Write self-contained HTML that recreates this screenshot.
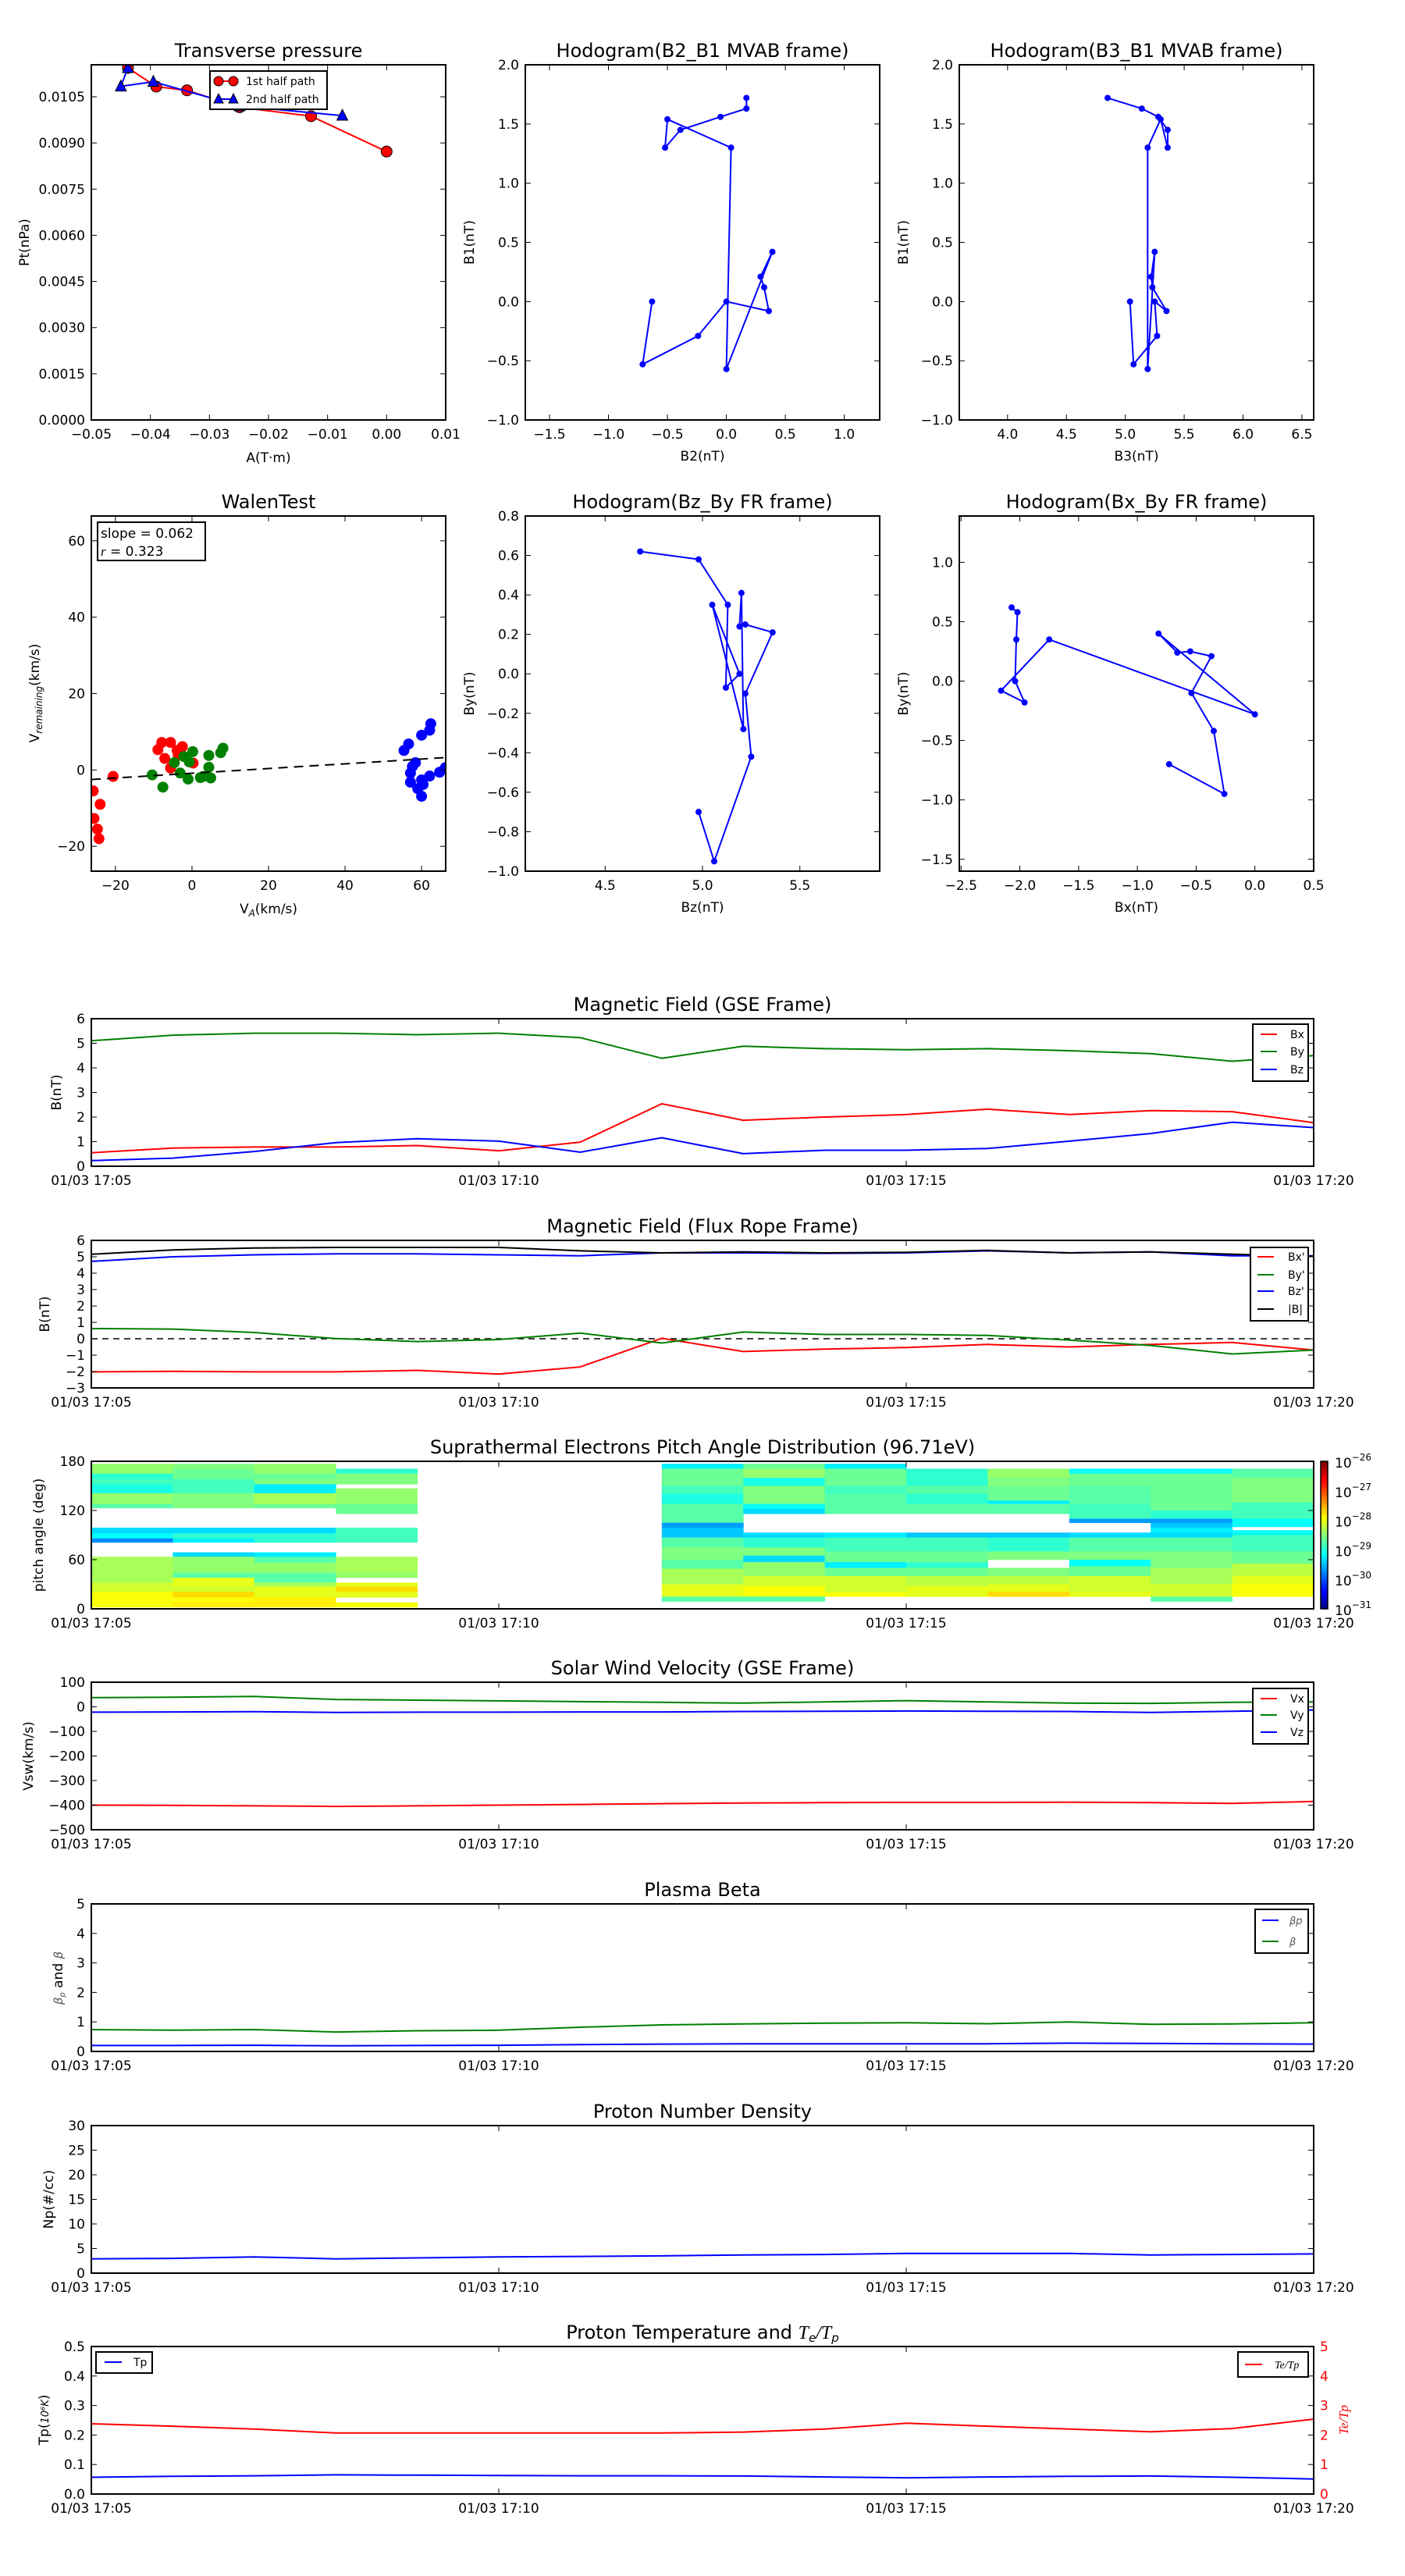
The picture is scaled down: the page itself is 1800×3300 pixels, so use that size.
<!DOCTYPE html>
<html><head><meta charset="utf-8">
<style>
html,body{margin:0;padding:0;background:#fff;}
svg{display:block;font-family:"DejaVu Sans","Liberation Sans",sans-serif;}
</style></head>
<body>
<svg id="fig" xmlns="http://www.w3.org/2000/svg" width="1800" height="3300" viewBox="0 0 1800 3300"></svg>
<script>
// ---------------- DATA ----------------
const minutes = [0,1,2,3,4,5,6,7,8,9,10,11,12,13,14,15];
const timeTickVals = [0,5,10,15];
const timeTickLabels = ["01/03 17:05","01/03 17:10","01/03 17:15","01/03 17:20"];

const gseBx = [0.55,0.74,0.78,0.78,0.84,0.63,0.98,2.54,1.87,2.0,2.1,2.32,2.1,2.26,2.22,1.77];
const gseBy = [5.1,5.33,5.41,5.41,5.35,5.41,5.23,4.39,4.88,4.78,4.74,4.78,4.70,4.58,4.27,4.5];
const gseBz = [0.23,0.33,0.6,0.96,1.12,1.02,0.57,1.16,0.51,0.65,0.65,0.72,1.02,1.33,1.79,1.57];

const frBx = [-2.02,-1.99,-2.02,-2.02,-1.93,-2.15,-1.72,0.03,-0.78,-0.63,-0.54,-0.35,-0.5,-0.35,-0.23,-0.69];
const frBy = [0.62,0.59,0.38,0.01,-0.17,-0.05,0.35,-0.26,0.41,0.26,0.26,0.2,-0.08,-0.41,-0.93,-0.69];
const frBz = [4.72,5.0,5.12,5.18,5.18,5.12,5.06,5.24,5.24,5.21,5.24,5.36,5.24,5.3,5.06,5.06];
const frB  = [5.15,5.42,5.54,5.57,5.57,5.57,5.36,5.24,5.3,5.24,5.27,5.39,5.24,5.3,5.15,5.03];

const swVx = [-400,-401,-403,-405,-403,-400,-397,-394,-391,-390,-389,-389,-388,-390,-393,-385];
const swVy = [37,39,42,30,27,24,21,18,15,20,25,20,15,14,18,20];
const swVz = [-22,-21,-20,-23,-22,-22,-21,-21,-19,-18,-17,-18,-19,-23,-18,-13];

const betaP = [0.2,0.2,0.21,0.19,0.2,0.21,0.23,0.25,0.26,0.26,0.26,0.26,0.28,0.27,0.26,0.25];
const betaT = [0.74,0.72,0.74,0.66,0.70,0.72,0.82,0.9,0.93,0.96,0.97,0.94,1.0,0.92,0.93,0.97];

const npVals = [2.9,3.0,3.3,2.9,3.1,3.3,3.4,3.5,3.7,3.8,4.0,4.0,4.0,3.7,3.8,3.9];

const tpVals = [0.057,0.060,0.062,0.065,0.064,0.063,0.062,0.062,0.061,0.058,0.055,0.058,0.060,0.061,0.057,0.051];
const teTpVals = [2.38,2.3,2.2,2.07,2.07,2.07,2.07,2.07,2.1,2.2,2.4,2.3,2.2,2.11,2.22,2.54];

// PAD: columns (minute index) and bands [deg_top, deg_bottom, log10 value]
const padCols = [0,1,2,3,7,8,9,10,11,12,13,14];
const padBands = [
 [[177,170,-28.4],[170,165,-28.4],[165,158,-28.9],[158,152,-28.8],[152,141,-29.0],[141,128,-28.4],[128,123,-28.7],[99,92,-29.3],[92,86,-29.1],[86,81,-29.7],[63.5,32,-28.3],[32,21,-28.1],[21,2,-27.9]],
 [[177,170,-28.5],[170,158,-28.6],[158,152,-28.8],[152,141,-28.8],[141,123,-28.5],[99,92,-29.3],[92,86,-28.9],[86,81,-29.2],[69,63.5,-29.3],[63.5,44,-28.4],[44,38,-28.7],[38,27,-28.0],[27,21,-28.1],[21,14,-27.7],[14,8,-27.9],[8,2,-27.8]],
 [[177,165,-28.4],[165,158,-28.6],[158,152,-28.5],[152,141,-29.2],[141,128,-28.3],[128,123,-28.6],[99,92,-29.3],[92,81,-28.9],[69,63.5,-29.2],[63.5,56,-28.7],[56,44,-28.4],[44,32,-28.7],[32,27,-28.3],[27,14,-28.0],[14,2,-27.8]],
 [[171,165,-28.9],[165,152,-28.5],[147,128,-28.4],[128,116,-28.6],[99,81,-28.8],[63.5,44,-28.3],[44,38,-28.4],[32,27,-28.0],[27,21,-27.7],[21,14,-28.0],[8,2,-27.9]],
 [[177,171,-29.2],[171,150,-28.6],[150,140,-28.8],[140,128,-29.0],[128,105,-28.7],[105,99,-29.6],[99,87,-29.4],[87,75,-28.7],[75,60,-28.5],[60,49,-28.7],[49,30,-28.3],[30,15,-28.0],[15,9,-28.7]],
 [[177,171,-28.6],[171,160,-28.4],[160,150,-29.0],[150,128,-28.5],[128,122,-29.1],[122,116,-29.3],[93,87,-29.3],[87,75,-28.9],[75,65,-28.5],[65,57,-29.3],[57,40,-28.4],[40,28,-28.1],[28,15,-27.9],[15,9,-28.7]],
 [[177,171,-29.2],[171,150,-28.6],[150,140,-28.8],[140,116,-28.7],[93,87,-29.2],[87,70,-28.8],[70,57,-28.6],[57,50,-29.2],[50,40,-28.6],[40,20,-28.1],[20,15,-27.9]],
 [[171,150,-28.9],[150,140,-28.7],[140,128,-28.9],[128,116,-28.7],[93,87,-29.4],[87,70,-28.8],[70,57,-28.6],[57,50,-28.9],[50,40,-28.6],[40,28,-28.2],[28,15,-28.0]],
 [[171,160,-28.4],[160,150,-28.5],[150,132,-28.6],[132,128,-29.2],[128,116,-28.7],[93,87,-29.4],[87,70,-28.9],[70,60,-28.5],[50,40,-28.5],[40,30,-28.2],[30,21,-28.0],[21,15,-27.7]],
 [[171,165,-29.1],[165,150,-28.6],[150,128,-28.7],[128,110,-28.8],[110,105,-29.6],[93,87,-29.3],[87,70,-28.7],[70,60,-28.5],[60,52,-29.1],[52,40,-28.6],[40,21,-28.1],[21,15,-28.0]],
 [[171,165,-29.1],[165,140,-28.6],[140,120,-28.6],[120,110,-28.9],[110,105,-29.6],[105,99,-29.4],[99,93,-29.2],[93,87,-29.3],[87,70,-28.7],[70,50,-28.5],[50,30,-28.3],[30,15,-28.1],[15,9,-28.7]],
 [[171,160,-28.7],[160,130,-28.5],[130,110,-28.8],[110,100,-29.1],[96,90,-29.1],[90,70,-28.8],[70,55,-28.6],[55,40,-28.2],[40,30,-28.0],[30,15,-27.9]]
];

// Transverse pressure
const pt1A = [-0.0438,-0.039,-0.0338,-0.0249,-0.0128,0.0];
const pt1P = [0.01144,0.01083,0.01071,0.01016,0.00987,0.00872];
const pt2A = [-0.0075,-0.0249,-0.0395,-0.045,-0.0438];
const pt2P = [0.00989,0.0102,0.01099,0.01084,0.01144];

// Hodograms MVAB
const mvB1 = [1.72,1.63,1.56,1.45,1.30,1.54,1.30,-0.57,0.42,0.21,0.12,-0.08,0.0,-0.29,-0.53,0.0];
const mvB2 = [0.17,0.17,-0.05,-0.39,-0.52,-0.50,0.04,0.0,0.39,0.29,0.32,0.36,0.0,-0.24,-0.71,-0.63];
const mvB3 = [4.85,5.14,5.28,5.36,5.36,5.30,5.19,5.19,5.25,5.22,5.23,5.35,5.25,5.27,5.07,5.04];

// Hodograms FR frame
const hzBz = [4.68,4.98,5.13,5.12,5.19,5.05,5.21,5.20,5.19,5.22,5.36,5.22,5.25,5.06,4.98];
const hzBy = [0.62,0.58,0.35,-0.07,0.0,0.35,-0.28,0.41,0.24,0.25,0.21,-0.10,-0.42,-0.95,-0.70];
const hxBx = [-2.07,-2.02,-2.03,-2.04,-1.96,-2.16,-1.75,0.0,-0.82,-0.66,-0.55,-0.37,-0.54,-0.35,-0.26,-0.73];
const hxBy = [0.62,0.58,0.35,0.0,-0.18,-0.08,0.35,-0.28,0.40,0.24,0.25,0.21,-0.10,-0.42,-0.95,-0.70];

// Walen test
const waRedX = [-25.8,-24,-25.6,-24.7,-24.3,-20.6,-8.9,-7.9,-7.1,-5.6,-5.6,-3.9,-3.6,-2.5,0.3];
const waRedY = [-5.5,-9,-12.7,-15.5,-18,-1.7,5.3,7.2,3.0,7.2,0.5,5.1,3.9,6.1,1.8];
const waGreenX = [-10.4,-7.6,-4.6,-3.1,-2.1,-0.7,0.2,-1.0,2.2,3.0,4.9,4.4,4.4,7.5,8.1];
const waGreenY = [-1.3,-4.5,1.9,-0.8,3.5,2.1,4.8,-2.4,-2.0,-1.7,-2.1,3.8,0.7,4.5,5.7];
const waBlueX = [55.4,56.6,57.1,57.1,57.6,58.4,60,62.4,62.1,62.1,59,60,60.4,60,64.7,66.2];
const waBlueY = [5.1,6.8,-0.8,-3.2,0.9,1.9,9.1,12.1,10.4,-1.6,-4.9,-2.6,-3.8,-6.9,-0.6,0.6];
const waSlope = 0.062;
const waIntercept = -0.87;

// ---------------- HELPERS ----------------
const NS = "http://www.w3.org/2000/svg";
const fig = document.getElementById('fig');
function mk(tag, name, attrs, parent){
  const e = document.createElementNS(NS, tag);
  
  
  for (const k in attrs) e.setAttribute(k, attrs[k]);
  (parent||fig).appendChild(e);
  return e;
}
function txt(name, x, y, s, size, anchor, parent, extra){
  const a = Object.assign({x:x, y:y, 'font-size':size, 'text-anchor':anchor||'start', fill:'#000'}, extra||{});
  const t = mk('text', name, a, parent);
  t.textContent = s;
  return t;
}
function fmt(v, d){ const s = Math.abs(v).toFixed(d); return (v < 0 ? '\u2212' : '') + s; }
let clipId = 0;
function axes(o){
  const g = mk('g', o.name, {});
  const sx = v => o.x0 + (v-o.xmin)/(o.xmax-o.xmin)*(o.x1-o.x0);
  const sy = v => o.y1 - (v-o.ymin)/(o.ymax-o.ymin)*(o.y1-o.y0);
  const id = 'clip' + (clipId++);
  const cp = mk('clipPath', 'clip-region', {id:id}, g);
  mk('rect', 'clip-rect', {x:o.x0, y:o.y0, width:o.x1-o.x0, height:o.y1-o.y0}, cp);
  const plot = mk('g', 'plot-area', {'clip-path':'url(#'+id+')'}, g);
  const deco = mk('g', 'axis-decoration', {}, g);
  return {g, plot, deco, sx, sy, o};
}
function finishAxes(A){
  const o = A.o, d = A.deco;
  o.xticks.forEach((v,i) => {
    const x = A.sx(v);
    mk('line', 'x-tick', {x1:x, y1:o.y1, x2:x, y2:o.y1-7, stroke:'#000', 'stroke-width':1}, d);
    mk('line', 'x-tick-top', {x1:x, y1:o.y0, x2:x, y2:o.y0+7, stroke:'#000', 'stroke-width':1}, d);
    txt('x-tick-label', x, o.y1+24, o.xlabels[i], 17, 'middle', d);
  });
  o.yticks.forEach((v,i) => {
    const y = A.sy(v);
    mk('line', 'y-tick', {x1:o.x0, y1:y, x2:o.x0+7, y2:y, stroke:'#000', 'stroke-width':1}, d);
    if (!o.noRightTicks) mk('line', 'y-tick-right', {x1:o.x1, y1:y, x2:o.x1-7, y2:y, stroke:'#000', 'stroke-width':1}, d);
    txt('y-tick-label', o.x0-8, y+6, o.ylabels[i], 17, 'end', d);
  });
  mk('rect', 'axes-frame', {x:o.x0, y:o.y0, width:o.x1-o.x0, height:o.y1-o.y0, fill:'none', stroke:'#000', 'stroke-width':2}, d);
  if (o.title) txt('chart-title', (o.x0+o.x1)/2, o.y0-10, o.title, 24, 'middle', d);
  if (o.xtitle) txt('x-axis-title', (o.x0+o.x1)/2, o.xtitleY, o.xtitle, 17, 'middle', d);
  if (o.ytitle){
    txt('y-axis-title', 0, 0, o.ytitle, 17, 'middle', d, {transform:'translate('+o.ytitleX+','+((o.y0+o.y1)/2)+') rotate(-90)'});
  }
}
function poly(A, xs, ys, color, name, w){
  const pts = xs.map((x,i) => A.sx(x).toFixed(1)+','+A.sy(ys[i]).toFixed(1)).join(' ');
  return mk('polyline', name, {points:pts, fill:'none', stroke:color, 'stroke-width':w||2, 'stroke-linejoin':'round'}, A.plot);
}
function dots(A, xs, ys, color, name, r, edge){
  xs.forEach((x,i) => {
    const c = mk('circle', name, {cx:A.sx(x), cy:A.sy(ys[i]), r:r, fill:color}, A.plot);
    if (edge) { c.setAttribute('stroke', '#000'); c.setAttribute('stroke-width', 1); }
  });
}
function legend(name, x, y, w, h, entries){
  const g = mk('g', name, {});
  mk('rect', 'legend-frame', {x:x, y:y, width:w, height:h, fill:'#fff', stroke:'#000', 'stroke-width':2}, g);
  entries.forEach(e => {
    mk('line', 'legend-swatch', {x1:e.lx1, y1:e.y, x2:e.lx2, y2:e.y, stroke:e.color, 'stroke-width':2}, g);
    txt('legend-label', e.tx, e.y+5, e.label, e.size||14, 'start', g, e.extra);
  });
  return g;
}
function range(a,b,s){ const r=[]; for(let v=a; v<=b+1e-9; v+=s) r.push(+v.toFixed(6)); return r; }

// ---------------- TOP ROW ----------------
(function(){
  const yt = range(0, 0.0105, 0.0015), xt = range(-0.05, 0.01, 0.01);
  const A = axes({name:'transverse-pressure-chart', x0:117,x1:571,y0:83,y1:538, xmin:-0.05,xmax:0.01,ymin:0,ymax:0.01154,
    xticks:xt, xlabels:xt.map(v=>fmt(v,2)), yticks:yt, ylabels:yt.map(v=>fmt(v,4)),
    title:'Transverse pressure', xtitle:'A(T\u00b7m)', xtitleY:592, ytitle:'Pt(nPa)', ytitleX:37});
  poly(A, pt1A, pt1P, '#ff0000', 'first-half-path-line', 2);
  dots(A, pt1A, pt1P, '#ff0000', 'first-half-point', 7, true);
  poly(A, pt2A, pt2P, '#0000ff', 'second-half-path-line', 2);
  pt2A.forEach((a,i) => {
    const x = A.sx(a), y = A.sy(pt2P[i]);
    mk('polygon', 'second-half-point', {points:(x)+','+(y-8)+' '+(x-7)+','+(y+6)+' '+(x+7)+','+(y+6), fill:'#0000ff', stroke:'#000', 'stroke-width':1}, A.plot);
  });
  finishAxes(A);
  const g = mk('g', 'transverse-legend', {});
  mk('rect', 'legend-frame', {x:269,y:91,width:150,height:49,fill:'#fff',stroke:'#000','stroke-width':2}, g);
  mk('line', 'legend-swatch', {x1:280,y1:104,x2:299,y2:104,stroke:'#ff0000','stroke-width':2}, g);
  mk('circle', 'legend-marker', {cx:280,cy:104,r:6,fill:'#ff0000',stroke:'#000'}, g);
  mk('circle', 'legend-marker', {cx:299,cy:104,r:6,fill:'#ff0000',stroke:'#000'}, g);
  txt('legend-label', 315, 109, '1st half path', 14, 'start', g);
  mk('line', 'legend-swatch', {x1:280,y1:127,x2:299,y2:127,stroke:'#0000ff','stroke-width':2}, g);
  mk('polygon', 'legend-marker', {points:'280,120 274,132 286,132', fill:'#0000ff', stroke:'#000'}, g);
  mk('polygon', 'legend-marker', {points:'299,120 293,132 305,132', fill:'#0000ff', stroke:'#000'}, g);
  txt('legend-label', 315, 132, '2nd half path', 14, 'start', g);
})();

function hodo(name, box, lim, xt, xl, yt, yl, xs, ys, title, xtitle, ytitle, xtitleY){
  const A = axes({name:name, x0:box[0],x1:box[1],y0:box[2],y1:box[3], xmin:lim[0],xmax:lim[1],ymin:lim[2],ymax:lim[3],
    xticks:xt, xlabels:xl, yticks:yt, ylabels:yl, title:title, xtitle:xtitle, xtitleY:xtitleY, ytitle:ytitle, ytitleX:box[0]-66});
  poly(A, xs, ys, '#0000ff', 'hodogram-path', 2);
  dots(A, xs, ys, '#0000ff', 'hodogram-point', 4);
  finishAxes(A);
}
{
  const xt = range(-1.5,1.0,0.5), yt = range(-1.0,2.0,0.5);
  hodo('hodogram-b2-b1', [673,1127,83,538], [-1.705,1.3,-1,2], xt, xt.map(v=>fmt(v,1)), yt, yt.map(v=>fmt(v,1)), mvB2, mvB1,
    'Hodogram(B2_B1 MVAB frame)', 'B2(nT)', 'B1(nT)', 590);
  const xt3 = range(4.0,6.5,0.5);
  hodo('hodogram-b3-b1', [1229,1683,83,538], [3.59,6.6,-1,2], xt3, xt3.map(v=>fmt(v,1)), yt, yt.map(v=>fmt(v,1)), mvB3, mvB1,
    'Hodogram(B3_B1 MVAB frame)', 'B3(nT)', 'B1(nT)', 590);
  const xtz = [4.5,5.0,5.5], ytz = range(-1.0,0.8,0.2);
  hodo('hodogram-bz-by', [673,1127,661,1116], [4.09,5.91,-1.0,0.8], xtz, xtz.map(v=>fmt(v,1)), ytz, ytz.map(v=>fmt(v,1)), hzBz, hzBy,
    'Hodogram(Bz_By FR frame)', 'Bz(nT)', 'By(nT)', 1168);
  const xtx = range(-2.5,0.5,0.5), ytx = range(-1.5,1.0,0.5);
  hodo('hodogram-bx-by', [1229,1683,661,1116], [-2.515,0.5,-1.6,1.39], xtx, xtx.map(v=>fmt(v,1)), ytx, ytx.map(v=>fmt(v,1)), hxBx, hxBy,
    'Hodogram(Bx_By FR frame)', 'Bx(nT)', 'By(nT)', 1168);
}

(function(){
  const t = [-20,0,20,40,60];
  const A = axes({name:'walen-test-chart', x0:117,x1:571,y0:661,y1:1116, xmin:-26.3,xmax:66.3,ymin:-26.5,ymax:66.5,
    xticks:t, xlabels:t.map(v=>fmt(v,0)), yticks:t, ylabels:t.map(v=>fmt(v,0)), title:'WalenTest'});
  dots(A, waRedX, waRedY, '#ff0000', 'walen-red-point', 7);
  dots(A, waGreenX, waGreenY, '#008000', 'walen-green-point', 7);
  dots(A, waBlueX, waBlueY, '#0000ff', 'walen-blue-point', 7);
  const x0 = -26.3, x1 = 66.3;
  mk('line', 'walen-fit-line', {x1:A.sx(x0), y1:A.sy(waSlope*x0+waIntercept), x2:A.sx(x1), y2:A.sy(waSlope*x1+waIntercept), stroke:'#000', 'stroke-width':2, 'stroke-dasharray':'12,8'}, A.plot);
  finishAxes(A);
  const xl = txt('x-axis-title', 344, 1170, 'V', 17, 'middle', A.deco);
  const s1 = mk('tspan', 'subscript', {'font-size':12, 'font-style':'italic', dy:4}, xl); s1.textContent = 'A';
  const s2 = mk('tspan', 'unit', {dy:-4}, xl); s2.textContent = '(km/s)';
  const yl = txt('y-axis-title', 0, 0, 'V', 17, 'middle', A.deco, {transform:'translate(50,888) rotate(-90)'});
  const s3 = mk('tspan', 'subscript', {'font-size':12, 'font-style':'italic', dy:4}, yl); s3.textContent = 'remaining';
  const s4 = mk('tspan', 'unit', {dy:-4}, yl); s4.textContent = '(km/s)';
  const g = mk('g', 'walen-stats-box', {});
  mk('rect', 'stats-frame', {x:125,y:669,width:138,height:49,fill:'#fff',stroke:'#000','stroke-width':2}, g);
  txt('slope-text', 129, 689, 'slope = 0.062', 17, 'start', g);
  const r = txt('r-text', 129, 712, 'r', 17, 'start', g, {'font-style':'italic','font-family':'Liberation Serif, serif'});
  const r2 = mk('tspan', 'r-value', {'font-style':'normal','font-family':'DejaVu Sans, sans-serif'}, r); r2.textContent = ' = 0.323';
})();

// ---------------- TIME SERIES ----------------
function ts(name, y0, yt, yl, ymin, ymax, title, ytitle, ytitleX){
  return axes({name:name, x0:117,x1:1683,y0:y0,y1:y0+189, xmin:0,xmax:15,ymin:ymin,ymax:ymax,
    xticks:timeTickVals, xlabels:timeTickLabels, yticks:yt, ylabels:yl, title:title, ytitle:ytitle, ytitleX:ytitleX});
}
(function(){
  const yt = range(0,6,1);
  const A = ts('magnetic-field-gse-chart', 1305, yt, yt.map(v=>fmt(v,0)), 0, 6, 'Magnetic Field (GSE Frame)', 'B(nT)', 78);
  poly(A, minutes, gseBx, '#ff0000', 'bx-line');
  poly(A, minutes, gseBy, '#008000', 'by-line');
  poly(A, minutes, gseBz, '#0000ff', 'bz-line');
  finishAxes(A);
  legend('gse-legend', 1605, 1312, 71, 73, [
    {lx1:1615,lx2:1636,tx:1653,y:1325,color:'#ff0000',label:'Bx'},
    {lx1:1615,lx2:1636,tx:1653,y:1347,color:'#008000',label:'By'},
    {lx1:1615,lx2:1636,tx:1653,y:1370,color:'#0000ff',label:'Bz'}]);
})();
(function(){
  const yt = range(-3,6,1);
  const A = ts('magnetic-field-fr-chart', 1589, yt, yt.map(v=>fmt(v,0)), -3, 6, 'Magnetic Field (Flux Rope Frame)', 'B(nT)', 63);
  mk('line', 'zero-line', {x1:117,y1:A.sy(0),x2:1683,y2:A.sy(0),stroke:'#000','stroke-width':1.5,'stroke-dasharray':'8,6'}, A.plot);
  poly(A, minutes, frBx, '#ff0000', 'bx-prime-line');
  poly(A, minutes, frBy, '#008000', 'by-prime-line');
  poly(A, minutes, frBz, '#0000ff', 'bz-prime-line');
  poly(A, minutes, frB, '#000000', 'b-magnitude-line');
  finishAxes(A);
  legend('fr-legend', 1602, 1598, 74, 94, [
    {lx1:1611,lx2:1632,tx:1650,y:1610,color:'#ff0000',label:"Bx'"},
    {lx1:1611,lx2:1632,tx:1650,y:1633,color:'#008000',label:"By'"},
    {lx1:1611,lx2:1632,tx:1650,y:1654,color:'#0000ff',label:"Bz'"},
    {lx1:1611,lx2:1632,tx:1650,y:1677,color:'#000000',label:'|B|'}]);
})();
function jet(v){
  const t = Math.max(0, Math.min(1, (v+31)/5));
  const c = x => Math.round(255*Math.max(0, Math.min(1, x)));
  return 'rgb('+c(1.5-Math.abs(4*t-3))+','+c(1.5-Math.abs(4*t-2))+','+c(1.5-Math.abs(4*t-1))+')';
}
(function(){
  const yt = [0,60,120,180];
  const A = ts('pitch-angle-chart', 1872, yt, yt.map(v=>String(v)), 0, 180, 'Suprathermal Electrons Pitch Angle Distribution (96.71eV)', 'pitch angle (deg)', 55);
  padCols.forEach((c, ci) => {
    padBands[ci].forEach(b => {
      const y0 = A.sy(b[0]), y1 = A.sy(b[1]);
      mk('rect', 'pad-cell', {x:A.sx(c), y:y0, width:A.sx(c+1)-A.sx(c)+0.5, height:y1-y0+0.3, fill:jet(b[2])}, A.plot);
    });
  });
  finishAxes(A);
  const cb = mk('g', 'colorbar', {});
  for (let i = 0; i < 60; i++){
    const v = -26 - i*5/60;
    mk('rect', 'colorbar-segment', {x:1692, y:1872+i*189/60, width:9, height:189/60+0.5, fill:jet(v)}, cb);
  }
  mk('rect', 'colorbar-frame', {x:1692,y:1872,width:9,height:189,fill:'none',stroke:'#000','stroke-width':1.5}, cb);
  for (let k = 0; k <= 5; k++){
    const y = 1872 + k*189/5;
    const t = txt('colorbar-label', 1710, y+8, '10', 17, 'start', cb);
    const s = mk('tspan', 'exponent', {'font-size':12, dy:-9}, t); s.textContent = '\u2212' + (26+k);
  }
})();
(function(){
  const yt = range(-500,100,100);
  const A = ts('solar-wind-velocity-chart', 2155, yt, yt.map(v=>fmt(v,0)), -500, 100, 'Solar Wind Velocity (GSE Frame)', 'Vsw(km/s)', 42);
  poly(A, minutes, swVx, '#ff0000', 'vx-line');
  poly(A, minutes, swVy, '#008000', 'vy-line');
  poly(A, minutes, swVz, '#0000ff', 'vz-line');
  finishAxes(A);
  legend('sw-legend', 1605, 2163, 71, 71, [
    {lx1:1615,lx2:1636,tx:1653,y:2176,color:'#ff0000',label:'Vx'},
    {lx1:1615,lx2:1636,tx:1653,y:2197,color:'#008000',label:'Vy'},
    {lx1:1615,lx2:1636,tx:1653,y:2219,color:'#0000ff',label:'Vz'}]);
})();
(function(){
  const yt = range(0,5,1);
  const A = ts('plasma-beta-chart', 2439, yt, yt.map(v=>fmt(v,0)), 0, 5, 'Plasma Beta', null, 0);
  poly(A, minutes, betaP, '#0000ff', 'beta-p-line');
  poly(A, minutes, betaT, '#008000', 'beta-line');
  finishAxes(A);
  const yl = txt('y-axis-title', 0, 0, '\u03b2', 15, 'middle', A.deco, {transform:'translate(80,2534) rotate(-90)', fill:'#555', 'font-style':'italic'});
  const s1 = mk('tspan', 'subscript', {'font-size':10, dy:3}, yl); s1.textContent = 'p';
  const s2 = mk('tspan', 'label-rest', {dy:-3, 'font-style':'normal', fill:'#000', 'font-size':17}, yl); s2.textContent = ' and ';
  const s3 = mk('tspan', 'beta', {}, yl); s3.textContent = '\u03b2';
  legend('beta-legend', 1608, 2446, 68, 56, [
    {lx1:1617,lx2:1638,tx:1652,y:2460,color:'#0000ff',label:'\u03b2p',size:13,extra:{'font-style':'italic',fill:'#555'}},
    {lx1:1617,lx2:1638,tx:1652,y:2487,color:'#008000',label:'\u03b2',size:13,extra:{'font-style':'italic',fill:'#555'}}]);
})();
(function(){
  const yt = range(0,30,5);
  const A = ts('proton-density-chart', 2723, yt, yt.map(v=>fmt(v,0)), 0, 30, 'Proton Number Density', 'Np(#/cc)', 68);
  poly(A, minutes, npVals, '#0000ff', 'np-line');
  finishAxes(A);
})();
(function(){
  const yt = range(0,0.5,0.1);
  const A = ts('proton-temperature-chart', 3006, yt, yt.map(v=>fmt(v,1)), 0, 0.5, null, null, 0);
  A.o.noRightTicks = true;
  const syR = v => A.o.y1 - v/5*189;
  poly(A, minutes, tpVals, '#0000ff', 'tp-line');
  const pts = minutes.map((m,i) => A.sx(m).toFixed(1)+','+syR(teTpVals[i]).toFixed(1)).join(' ');
  mk('polyline', 'te-tp-line', {points:pts, fill:'none', stroke:'#ff0000', 'stroke-width':2}, A.plot);
  finishAxes(A);
  [0,1,2,3,4,5].forEach(v => {
    const y = syR(v);
    mk('line', 'right-y-tick', {x1:1683,y1:y,x2:1676,y2:y,stroke:'#000','stroke-width':1}, A.deco);
    txt('right-y-tick-label', 1691, y+6, String(v), 17, 'start', A.deco, {fill:'#ff0000'});
  });
  const t = txt('chart-title', 900, 2996, 'Proton Temperature and ', 24, 'middle', A.deco);
  const m1 = mk('tspan', 'math-te', {'font-style':'italic','font-family':'Liberation Serif, serif'}, t); m1.textContent = 'T';
  const m2 = mk('tspan', 'math-sub', {'font-size':15,'font-style':'italic',dy:4}, t); m2.textContent = 'e';
  const m3 = mk('tspan', 'math-rest', {dy:-4,'font-style':'italic','font-family':'Liberation Serif, serif'}, t); m3.textContent = '/T';
  const m4 = mk('tspan', 'math-sub', {'font-size':15,'font-style':'italic',dy:4}, t); m4.textContent = 'p';
  const yl = txt('y-axis-title', 0, 0, 'Tp(', 17, 'middle', A.deco, {transform:'translate(62,3100) rotate(-90)'});
  const y2 = mk('tspan', 'math', {'font-size':13,'font-style':'italic'}, yl); y2.textContent = '10\u2076K';
  const y3 = mk('tspan', 'paren', {}, yl); y3.textContent = ')';
  txt('right-axis-title', 0, 0, 'Te/Tp', 17, 'middle', A.deco, {transform:'translate(1727,3100) rotate(-90)', fill:'#ff0000', 'font-style':'italic', 'font-family':'Liberation Serif, serif'});
  legend('tp-legend', 123, 3013, 72, 27, [{lx1:134,lx2:156,tx:171,y:3026,color:'#0000ff',label:'Tp'}]);
  legend('te-tp-legend', 1586, 3013, 90, 32, [{lx1:1595,lx2:1617,tx:1633,y:3029,color:'#ff0000',label:'Te/Tp',size:14,extra:{'font-style':'italic','font-family':'Liberation Serif, serif'}}]);
})();
</script>
</body></html>
